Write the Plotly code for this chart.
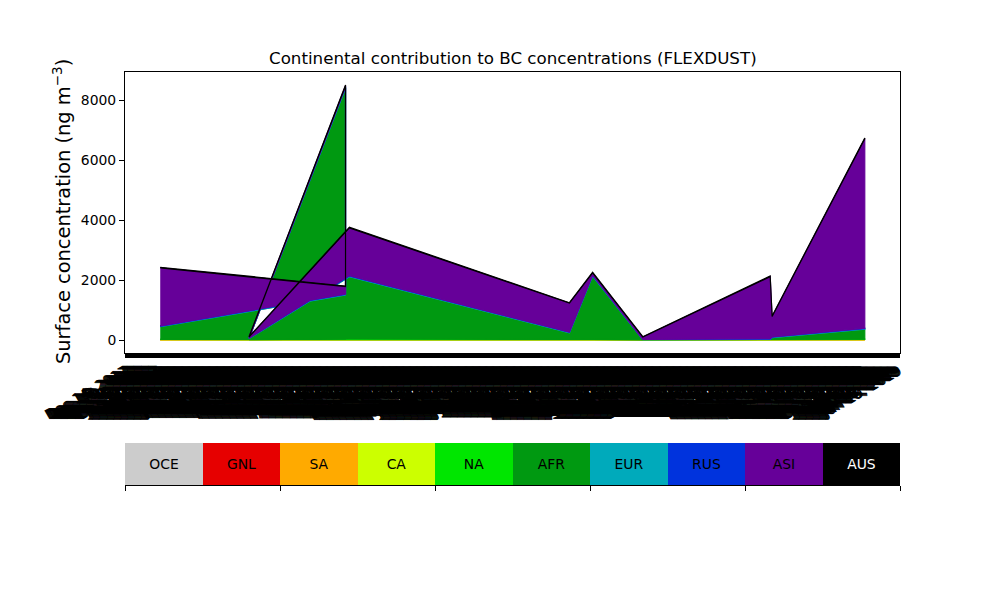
import numpy as np
import pandas as pd
import plotly.graph_objects as go

# ---- data (sample day index, in plotted order; not sorted) ----
days = [0, 96, 96, 46, 98, 212, 224, 250, 316, 317, 365]

regions = ["OCE", "GNL", "SA", "CA", "NA", "AFR", "EUR", "RUS", "ASI", "AUS"]
colors = ["#cccccc", "#e60000", "#ffaa00", "#ccff00", "#00e600",
          "#009911", "#00aabb", "#0033dd", "#660099", "#000000"]

OCE = [2, 1, 3, 0, 2, 1, 1, 0, 1, 1, 2]
GNL = [1, 1, 2, 0, 1, 0, 1, 0, 0, 0, 1]
SA = [3, 2, 5, 1, 4, 2, 3, 1, 2, 2, 4]
CA = [10, 8, 15, 3, 12, 6, 9, 3, 6, 5, 10]
NA = [8, 12, 20, 4, 15, 8, 10, 3, 5, 6, 12]
AFR = [419, 1476, 8355, 42, 2076, 226, 2109, 5, 3, 66, 328]
EUR = [12, 15, 20, 5, 18, 10, 15, 4, 10, 12, 18]
RUS = [15, 18, 25, 6, 20, 12, 18, 8, 15, 15, 22]
ASI = [1933, 247, 30, 39, 1587, 963, 71, 76, 2071, 678, 6311]
AUS = [20, 20, 25, 10, 25, 15, 20, 10, 20, 15, 25]

series = [OCE, GNL, SA, CA, NA, AFR, EUR, RUS, ASI, AUS]

# x-axis tick positions/labels (dense, one every half day)
tick_days = [d / 2 for d in range(-36, 767)]
tick_labels = list(pd.date_range("2017-12-14", periods=len(tick_days), freq="12h").strftime("%b %d, %Y"))

FONT = "DejaVu Sans"
W, H = 984, 584          # figure size; page is offset by the 8px body margin
OFF = 8


def px(xp):
    return (xp - OFF) / W


def py(yp):
    return 1 - (yp - OFF) / H


fig = go.Figure()

lower = np.zeros(len(days))
for name, col, vals in zip(regions, colors, series):
    upper = lower + np.array(vals, dtype=float)
    xp = list(days) + list(days[::-1])
    yp = list(lower) + list(upper[::-1])
    fig.add_trace(go.Scatter(
        x=xp, y=yp, mode="lines", fill="toself", fillcolor=col,
        line=dict(color=col, width=1.2), name=name, showlegend=False,
        hoverinfo="skip", xaxis="x", yaxis="y"))
    lower = upper

# colour key (as a horizontal bar strip)
txt_colors = ["black"] * 9 + ["white"]
fig.add_trace(go.Bar(
    x=[i + 0.5 for i in range(len(regions))], y=[1] * len(regions), width=1,
    marker=dict(color=colors, line=dict(width=0)),
    text=regions, textposition="inside", insidetextanchor="middle",
    textangle=0, textfont=dict(family=FONT, size=13.9, color=txt_colors),
    hoverinfo="skip", showlegend=False, xaxis="x2", yaxis="y2"))

x0, x1 = px(125), px(900)
fig.update_layout(
    width=W, height=H,
    margin=dict(l=0, r=0, t=0, b=0),
    paper_bgcolor="white", plot_bgcolor="white",
    font=dict(family=FONT, size=13.9, color="black"),
    showlegend=False, hovermode=False, bargap=0,
    uniformtext=dict(minsize=13, mode="show"),
    xaxis=dict(domain=[x0, x1], range=[-18.25, 383.25],
               tickmode="array", tickvals=tick_days, ticktext=tick_labels,
               tickangle=-30, ticks="outside", ticklen=4, tickwidth=1, tickcolor="black",
               showgrid=False, zeroline=False, showline=True, linecolor="black",
               linewidth=1, mirror=True, automargin=False,
               tickfont=dict(family=FONT, size=13.9, color="black")),
    yaxis=dict(domain=[py(352.75), py(72.25)], range=[-425, 8925],
               tickmode="array", tickvals=[0, 2000, 4000, 6000, 8000],
               ticktext=["0", "2000", "4000", "6000", "8000"],
               ticks="outside", ticklen=5, tickwidth=1, tickcolor="black",
               showgrid=False, zeroline=False, showline=True, linecolor="black",
               linewidth=1, mirror=True, automargin=False,
               tickfont=dict(family=FONT, size=13.9, color="black")),
    xaxis2=dict(domain=[x0, x1], range=[0, 10], anchor="y2",
                tickmode="array", tickvals=[0, 2, 4, 6, 8, 10], showticklabels=False,
                ticks="outside", ticklen=5, tickwidth=1, tickcolor="black",
                showgrid=False, zeroline=False, showline=True, linecolor="black",
                linewidth=1, automargin=False),
    yaxis2=dict(domain=[py(485), py(443)], range=[0, 1], anchor="x2",
                visible=False, fixedrange=True),
    annotations=[
        dict(text="Continental contribution to BC concentrations (FLEXDUST)",
             x=(x0 + x1) / 2, y=py(58), xref="paper", yref="paper",
             xanchor="center", yanchor="middle", showarrow=False,
             font=dict(family=FONT, size=16.7, color="black")),
        dict(text="Surface concentration (ng m<sup>−3</sup>)",
             x=px(62), y=py(212), xref="paper", yref="paper",
             xanchor="center", yanchor="middle", showarrow=False, textangle=-90,
             font=dict(family=FONT, size=19.4, color="black")),
    ],
)

fig.write_html("out.html")
